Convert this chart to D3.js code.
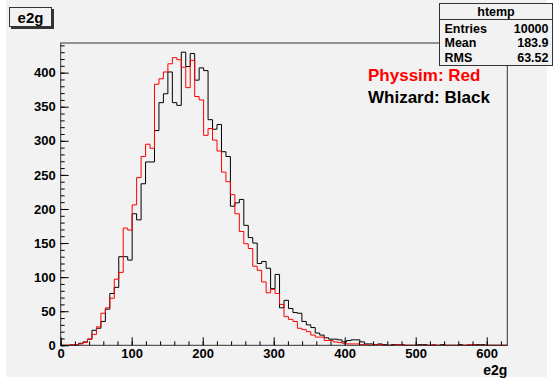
<!DOCTYPE html>
<html>
<head>
<meta charset="utf-8">
<script src="https://cdn.jsdelivr.net/npm/d3@7"></script>
<style>
  body { margin: 0; background: #fff; }
  svg { display: block; }
  text { font-family: "Liberation Sans", Arial, sans-serif; font-weight: bold; }
</style>
</head>
<body>
<div id="chart"></div>
<script>
// 100 bins from 0 to xMax (TTree::Draw default)
var xMax = 629;
var yMax = 443.5;

// Physsim (red)
var physsim = [
  0, 0, 1, 1, 2, 4, 9, 16, 27, 47,
  55, 69, 97, 107, 172, 169, 206, 246, 277, 295,
  289, 383, 391, 401, 413, 422, 419, 408, 378, 418,
  365, 360, 308, 318, 301, 285, 254, 240, 221, 193,
  167, 149, 142, 116, 110, 93, 77, 82, 76, 60,
  42, 38, 35, 25, 23, 20, 15, 12, 12, 7,
  7, 5, 4, 3, 2, 2, 2, 1, 1, 0,
  1, 1, 0, 0, 0, 1, 1, 0, 0, 0,
  0, 0, 0, 1, 0, 0, 0, 0, 0, 0,
  0, 1, 1, 0, 0, 0, 0, 0, 0, 0
];

// Whizard (black)
var whizard = [
  0, 0, 0, 0, 3, 5, 9, 22, 25, 35,
  53, 76, 85, 130, 130, 125, 193, 184, 237, 269,
  269, 315, 356, 369, 401, 356, 352, 430, 409, 428,
  389, 407, 403, 331, 317, 324, 284, 277, 204, 209,
  214, 176, 158, 150, 120, 123, 113, 83, 104, 55,
  66, 54, 48, 47, 35, 30, 26, 18, 15, 11,
  9, 9, 8, 5, 7, 8, 8, 5, 2, 2,
  1, 2, 1, 0, 1, 1, 1, 0, 0, 0,
  1, 1, 0, 0, 0, 1, 0, 0, 0, 1,
  0, 0, 0, 1, 1, 0, 0, 0, 0, 0
];

var xTicks = [0, 100, 200, 300, 400, 500, 600];
var yTicks = [0, 50, 100, 150, 200, 250, 300, 350, 400];

var statsRows = [["Entries", "10000"], ["Mean", "183.9"], ["RMS", "63.52"]];
var legendLines = [["Physsim: Red", "#ff0000"], ["Whizard: Black", "#000000"]];

var width = 556, height = 382;
var frame = { left: 60.7, right: 507.3, top: 43, bottom: 345.3 };

var svg = d3.select("#chart").append("svg")
    .attr("width", width)
    .attr("height", height);

// canvas
svg.append("rect")
    .attr("x", 6).attr("y", 0)
    .attr("width", 541).attr("height", 377)
    .attr("fill", "#f2f2f2");

var x = d3.scaleLinear().domain([0, xMax]).range([frame.left, frame.right]);
var y = d3.scaleLinear().domain([0, yMax]).range([frame.bottom, frame.top]);

var binW = xMax / physsim.length;

function stepPoints(counts) {
    var pts = [[0, 0]];
    counts.forEach(function(c, i) {
        pts.push([i * binW, c]);
        pts.push([(i + 1) * binW, c]);
    });
    pts.push([counts.length * binW, 0]);
    return pts;
}

var line = d3.line()
    .x(function(d) { return x(d[0]); })
    .y(function(d) { return y(d[1]); });

// histograms
svg.append("path")
    .attr("d", line(stepPoints(whizard)))
    .attr("fill", "none")
    .attr("stroke", "#000")
    .attr("stroke-width", 1);

svg.append("path")
    .attr("d", line(stepPoints(physsim)))
    .attr("fill", "none")
    .attr("stroke", "#ff0000")
    .attr("stroke-width", 1);

// frame
svg.append("rect")
    .attr("x", frame.left).attr("y", frame.top)
    .attr("width", frame.right - frame.left)
    .attr("height", frame.bottom - frame.top)
    .attr("fill", "none")
    .attr("stroke", "#333")
    .attr("stroke-width", 1);

// x axis: minor ticks every 20, major every 100, drawn inside
var xMinor = d3.range(0, xMax, 20);
svg.append("g")
    .attr("transform", "translate(0," + frame.bottom + ")")
    .call(d3.axisBottom(x).tickValues(xMinor).tickSize(-4).tickFormat(""))
    .call(function(g) { g.select(".domain").remove(); });

var xAxis = svg.append("g")
    .attr("transform", "translate(0," + frame.bottom + ")")
    .call(d3.axisBottom(x).tickValues(xTicks).tickSize(-8).tickPadding(5));
xAxis.select(".domain").remove();
xAxis.selectAll("text")
    .attr("y", 3).attr("dy", "0.71em")
    .style("font-size", "13px").attr("fill", "#000");

// y axis: minor every 10, major every 50
var yMinor = d3.range(0, yMax, 10);
svg.append("g")
    .attr("transform", "translate(" + frame.left + ",0)")
    .call(d3.axisLeft(y).tickValues(yMinor).tickSize(-4).tickFormat(""))
    .call(function(g) { g.select(".domain").remove(); });

var yAxis = svg.append("g")
    .attr("transform", "translate(" + frame.left + ",0)")
    .call(d3.axisLeft(y).tickValues(yTicks).tickSize(-8));
yAxis.select(".domain").remove();
yAxis.selectAll("text")
    .attr("x", -5)
    .style("font-size", "13px").attr("fill", "#000");

svg.selectAll(".tick line").attr("stroke", "#000");

// x axis title
svg.append("text")
    .attr("x", frame.right).attr("y", 375)
    .attr("text-anchor", "end")
    .style("font-size", "14px")
    .text("e2g");

// title box
svg.append("rect")
    .attr("x", 11).attr("y", 9).attr("width", 43).attr("height", 20)
    .attr("fill", "#333");
svg.append("rect")
    .attr("x", 9.5).attr("y", 7.5).attr("width", 42).attr("height", 19)
    .attr("fill", "#f2f2f2").attr("stroke", "#333");
svg.append("text")
    .attr("x", 30.5).attr("y", 22.5)
    .attr("text-anchor", "middle")
    .style("font-size", "15px")
    .text("e2g");

// stats box
var sb = { x: 439.5, y: 3.5, w: 113, h: 62 };
svg.append("rect")
    .attr("x", sb.x).attr("y", sb.y).attr("width", sb.w).attr("height", sb.h)
    .attr("fill", "#f2f2f2").attr("stroke", "#333");
svg.append("line")
    .attr("x1", sb.x).attr("x2", sb.x + sb.w)
    .attr("y1", 19.5).attr("y2", 19.5)
    .attr("stroke", "#333");
svg.append("text")
    .attr("x", sb.x + sb.w / 2).attr("y", 16)
    .attr("text-anchor", "middle")
    .style("font-size", "12.5px")
    .text("htemp");

var rows = svg.selectAll(".statrow")
    .data(statsRows)
    .enter().append("g")
    .attr("class", "statrow");
rows.append("text")
    .attr("x", sb.x + 5)
    .attr("y", function(d, i) { return 32.5 + i * 14.5; })
    .style("font-size", "12.5px")
    .text(function(d) { return d[0]; });
rows.append("text")
    .attr("x", sb.x + sb.w - 4)
    .attr("y", function(d, i) { return 32.5 + i * 14.5; })
    .attr("text-anchor", "end")
    .style("font-size", "12.5px")
    .text(function(d) { return d[1]; });

// legend text
svg.selectAll(".legend")
    .data(legendLines)
    .enter().append("text")
    .attr("class", "legend")
    .attr("x", 368)
    .attr("y", function(d, i) { return 81 + i * 22; })
    .attr("fill", function(d) { return d[1]; })
    .style("font-size", "17px")
    .text(function(d) { return d[0]; });
</script>
</body>
</html>
